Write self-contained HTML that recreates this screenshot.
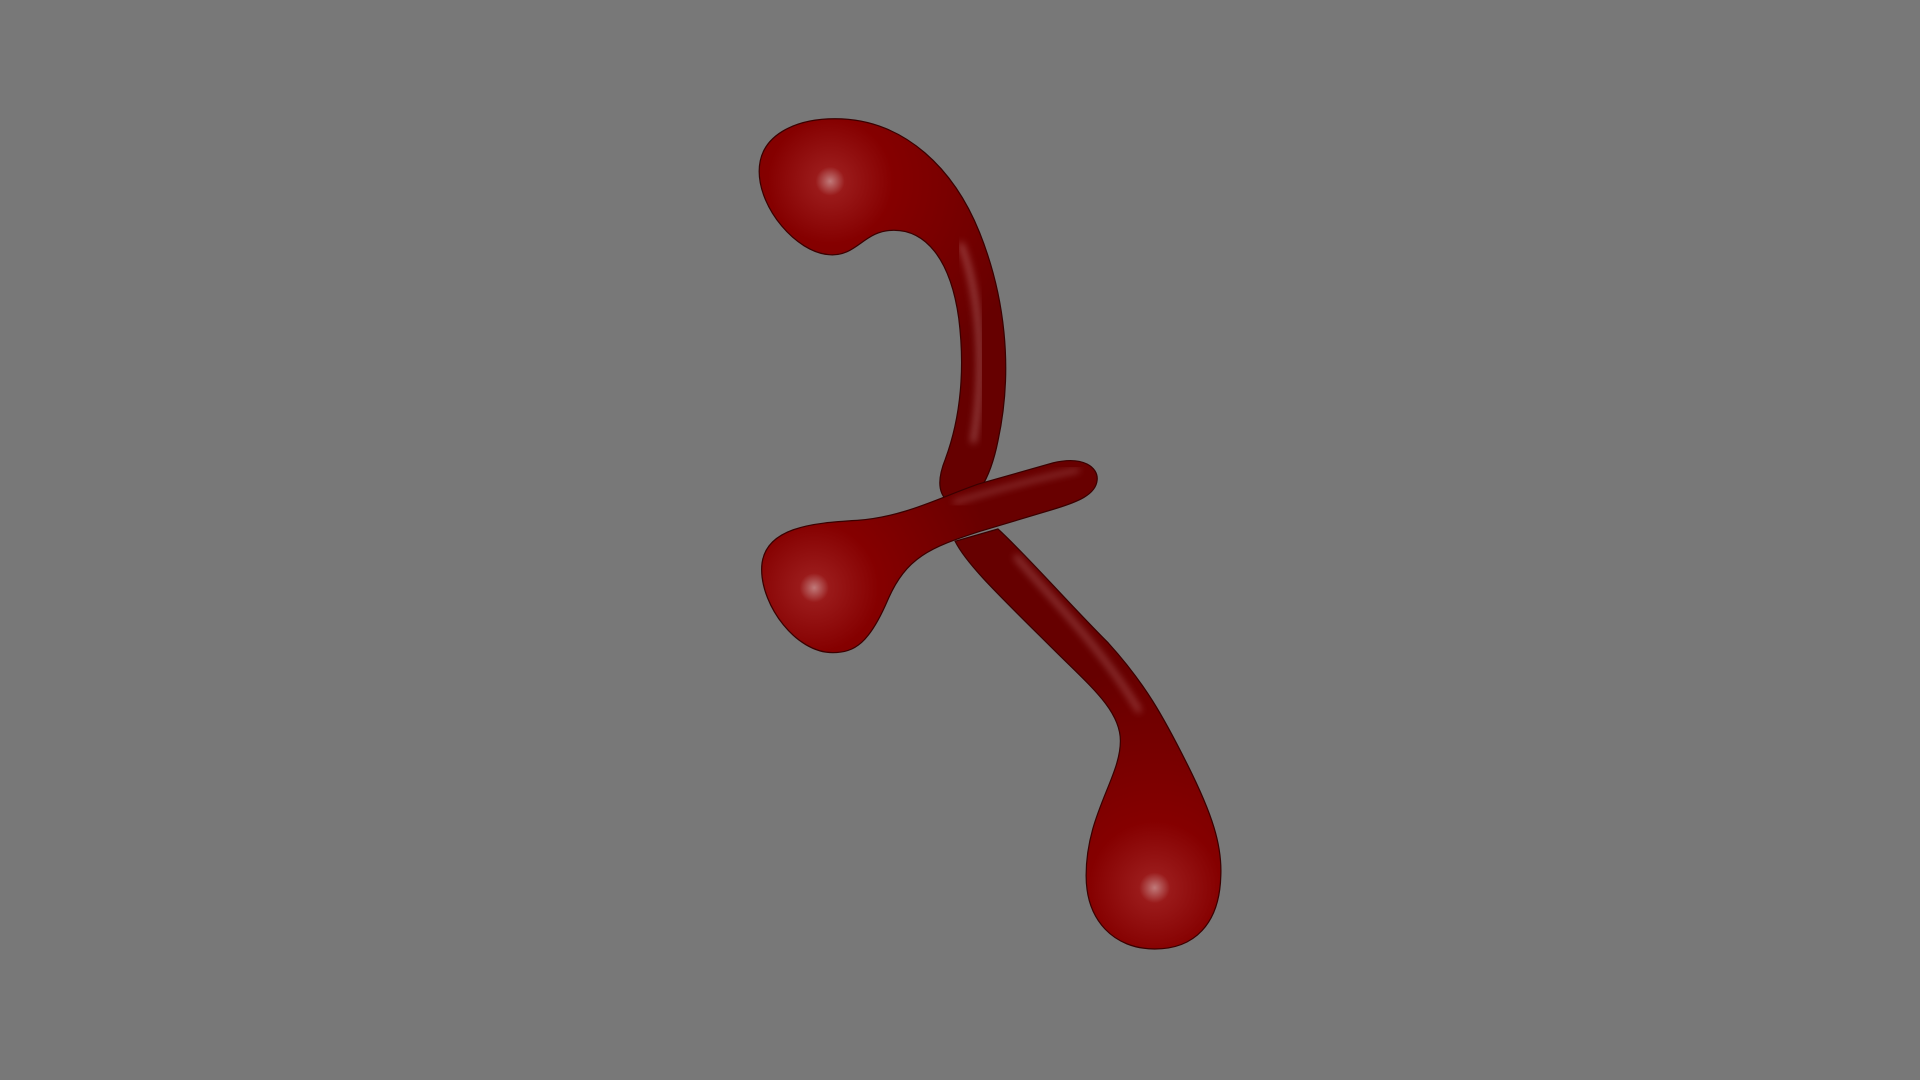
<!DOCTYPE html>
<html>
<head>
<meta charset="utf-8">
<style>
  html,body{margin:0;padding:0;background:#787878;width:1920px;height:1080px;overflow:hidden;}
  svg{display:block;}
</style>
</head>
<body>
<svg width="1920" height="1080" viewBox="0 0 1568 882" xmlns="http://www.w3.org/2000/svg">
  <defs>
    <radialGradient id="gTop" cx="678" cy="148" r="170" gradientUnits="userSpaceOnUse">
      <stop offset="0" stop-color="#c07a7a"/>
      <stop offset="0.07" stop-color="#9a1a1a"/>
      <stop offset="0.3" stop-color="#850000"/>
      <stop offset="1" stop-color="#660000"/>
    </radialGradient>
    <radialGradient id="gMid" cx="665" cy="480" r="150" gradientUnits="userSpaceOnUse">
      <stop offset="0" stop-color="#c07a7a"/>
      <stop offset="0.08" stop-color="#9a1a1a"/>
      <stop offset="0.35" stop-color="#850000"/>
      <stop offset="1" stop-color="#680000"/>
    </radialGradient>
    <radialGradient id="gBot" cx="943" cy="725" r="180" gradientUnits="userSpaceOnUse">
      <stop offset="0" stop-color="#c07a7a"/>
      <stop offset="0.07" stop-color="#9a1a1a"/>
      <stop offset="0.3" stop-color="#850000"/>
      <stop offset="1" stop-color="#660000"/>
    </radialGradient>
    <filter id="soft"><feGaussianBlur stdDeviation="3"/></filter>
  </defs>
  <rect x="0" y="0" width="1568" height="882" fill="#787878"/>
  <g>
    <path fill="url(#gTop)" stroke="#3a0000" stroke-width="1" d="M 682 97 C 740 97 780 140 800 190 C 820 240 828 300 815 360 C 808 395 795 410 785 412 C 770 412 762 400 772 375 C 785 340 788 300 783 260 C 776 210 755 188 730 188 C 705 188 700 210 677 208 C 650 206 620 170 620 140 C 620 110 650 97 682 97 Z"/>
    <path fill="none" stroke="#c88a8a" stroke-width="4" stroke-linecap="round" opacity="0.55" filter="url(#soft)" d="M 785 200 C 800 240 805 300 795 360"/>
  </g>
  <g>
    <path fill="url(#gBot)" stroke="#3a0000" stroke-width="1" d="M 815 432 C 840 455 870 490 905 525 C 935 558 950 585 970 625 C 990 665 998 690 997 715 C 996 755 975 775 943 775 C 910 775 887 752 887 715 C 887 665 915 635 915 605 C 915 580 890 560 860 530 C 820 490 790 462 780 442 Z"/>
    <path fill="none" stroke="#c88a8a" stroke-width="4" stroke-linecap="round" opacity="0.45" filter="url(#soft)" d="M 830 455 C 860 490 900 530 930 580"/>
  </g>
  <g>
    <path fill="url(#gMid)" stroke="#3a0000" stroke-width="1" d="M 700 425 C 740 422 770 405 800 395 L 860 378 C 885 372 897 382 896 392 C 895 404 880 410 860 416 L 800 434 C 760 447 740 455 725 490 C 710 525 698 533 680 533 C 650 533 622 495 622 465 C 622 430 665 427 700 425 Z"/>
    <path fill="none" stroke="#c88a8a" stroke-width="3" stroke-linecap="round" opacity="0.45" filter="url(#soft)" d="M 780 410 C 820 398 850 390 880 384"/>
  </g>
</svg>
</body>
</html>
